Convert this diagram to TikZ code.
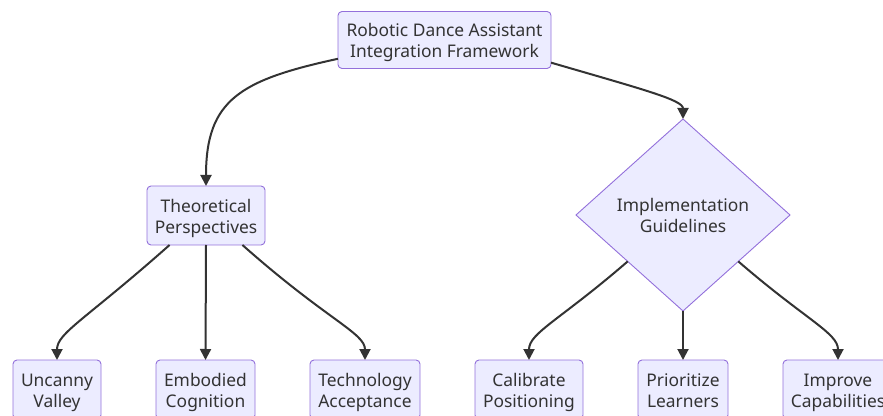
\documentclass[tikz,border=0pt]{standalone}
\usepackage{fontspec}
\setmainfont{Noto Sans}
\usetikzlibrary{shapes.geometric,arrows.meta}
\definecolor{boxfill}{HTML}{ECECFF}
\definecolor{boxline}{HTML}{9370DB}
\definecolor{textgray}{HTML}{333333}
\definecolor{linkgray}{HTML}{333333}

\begin{document}
\begin{tikzpicture}[x=1pt, y=1pt,
  label text/.style={text=textgray, font=\fontsize{17.4}{21}\selectfont, align=center, execute at begin node=\rule{0pt}{42pt}, execute at end node=\strut},
  box/.style={label text, draw=boxline, fill=boxfill, rounded corners=4pt, line width=0.9pt, inner sep=0pt, minimum height=59pt, outer sep=0pt},
  rhombus/.style={label text, diamond, draw=boxline, fill=boxfill, line width=0.9pt, inner sep=0pt, minimum width=214pt, minimum height=192pt, outer sep=0pt},
  link/.style={draw=linkgray, line width=2pt, -{Triangle[length=11pt,width=11pt]}}]
\useasboundingbox (0,0) rectangle (883,415);

\node[box, minimum width=213pt, minimum height=57pt] (root) at (444.5,375) {Robotic Dance Assistant\\Integration Framework};
\node[box, minimum width=118pt] (theory) at (206,199.5) {Theoretical\\Perspectives};
\node[rhombus] (guide) at (683,200) {Implementation\\Guidelines};

\node[box, minimum width=88pt] (uncanny) at (57,25.5) {Uncanny\\Valley};
\node[box, minimum width=99pt] (embodied) at (205.5,25.5) {Embodied\\Cognition};
\node[box, minimum width=110pt] (accept) at (365,25.5) {Technology\\Acceptance};
\node[box, minimum width=108pt] (calib) at (529,25.5) {Calibrate\\Positioning};
\node[box, minimum width=90pt] (learners) at (683,25.5) {Prioritize\\Learners};
\node[box, minimum width=110pt] (improve) at (838,25.5) {Improve\\Capabilities};

\draw[link] (root.190) .. controls (240,335) and (206,315) .. (theory.north);
\draw[link] (root.348) .. controls (645,325) and (683,315) .. (guide.north);

\draw[link] (theory.219) .. controls (85,95) and (57,82) .. (uncanny.north);
\draw[link] (theory.south) -- (embodied.north);
\draw[link] (theory.321) .. controls (327,95) and (365,82) .. (accept.north);

\draw[link] (guide.220) .. controls (560,95) and (529,82) .. (calib.north);
\draw[link] (guide.south) -- (learners.north);
\draw[link] (guide.320) .. controls (806,95) and (838,82) .. (improve.north);
\end{tikzpicture}
\end{document}
